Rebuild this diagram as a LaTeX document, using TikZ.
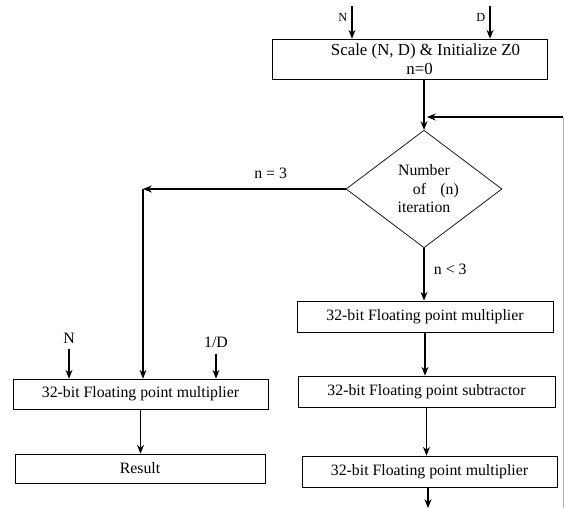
\documentclass[tikz,border=0pt]{standalone}
\usepackage{fontspec}
\setmainfont{Liberation Serif}
\usepackage{tikz}
\usetikzlibrary{shapes.geometric, arrows.meta, positioning}

\tikzset{
	block/.style={draw, rectangle, inner sep=0pt, font=\fontsize{9}{10.5}\selectfont},
	decision/.style={draw, diamond, inner sep=0pt, align=center, font=\fontsize{9}{10.5}\selectfont},
	arr/.style={-{Stealth[length=5pt, width=4pt]}, semithick},
	lbl/.style={font=\fontsize{9}{10}\selectfont}
}

\begin{document}
\begin{tikzpicture}[x=0.02cm, y=-0.02cm]
	\useasboundingbox (0,0) rectangle (564,508);
	
	% Draw the blocks
	\node[block, align=center, minimum width=5.5cm, minimum height=0.8cm, font=\fontsize{9.6}{11}\selectfont] (init) at (409.5,59) {\hspace*{1.9em}Scale (N, D) \& Initialize Z0\\\hspace*{1.2em}n=0};
	\node[decision, minimum width=3.12cm, minimum height=2.3cm] (iter) at (424,189) {Number\\\hspace*{1.5em}of\hspace{0.9em}(n)\\iteration};
	\node[block, minimum width=5.12cm, minimum height=0.62cm] (mulA) at (425,316.5) {32-bit Floating point multiplier};
	\node[block, minimum width=5.14cm, minimum height=0.62cm] (subt) at (426.5,391.5) {32-bit Floating point subtractor};
	\node[block, minimum width=5.1cm, minimum height=0.62cm] (mulB) at (429.5,471.5) {32-bit Floating point multiplier};
	\node[block, minimum width=5.1cm, minimum height=0.6cm] (mulL) at (140.5,394) {32-bit Floating point multiplier};
	\node[block, minimum width=5cm, minimum height=0.58cm] (res) at (140,468.5) {Result};
	
	% Inputs of the first block
	\coordinate (inN) at (352,6);
	\coordinate (inD) at (490,6);
	\draw[arr] (inN) -- (inN |- init.north) node[pos=0.35, left=-1pt, font=\fontsize{7}{8}\selectfont] {N};
	\draw[arr] (inD) -- (inD |- init.north) node[pos=0.35, left=-1pt, font=\fontsize{7}{8}\selectfont] {D};
	\draw[arr] (init.south -| iter.north) -- (iter.north);
	
	% Loop back from the last block
	\coordinate (loopB) at (563,508);
	\coordinate (loopT) at (563,117);
	\coordinate (loopIn) at (427,117);
	\draw[black!30] (loopB) -- (loopT);
	\draw[arr] (loopT) -- (loopIn);
	
	% Branch n = 3
	\coordinate (turn) at (143,189);
	\draw[arr] (iter.west) -- (turn) node[lbl, pos=0.37, above=2pt] {n = 3};
	\draw[arr] (turn) -- (turn |- mulL.north);
	\node[lbl] (inN2) at (69,338) {N};
	\node[lbl] (inRD) at (216,342) {1/D};
	\draw[arr] (inN2) -- (inN2 |- mulL.north);
	\draw[arr] (inRD) -- (inRD |- mulL.north);
	\draw[arr] (mulL.south) -- (mulL.south |- res.north);
	
	% Branch n < 3
	\draw[arr] (iter.south) -- (iter.south |- mulA.north) node[lbl, pos=0.4, right=2pt] {n < 3};
	\draw[arr] (mulA.south) -- (mulA.south |- subt.north);
	\draw[arr] (subt.south) -- (subt.south |- mulB.north);
	\coordinate (out) at (428,508);
	\draw[arr] (mulB.south -| out) -- (out);
\end{tikzpicture}
\end{document}
